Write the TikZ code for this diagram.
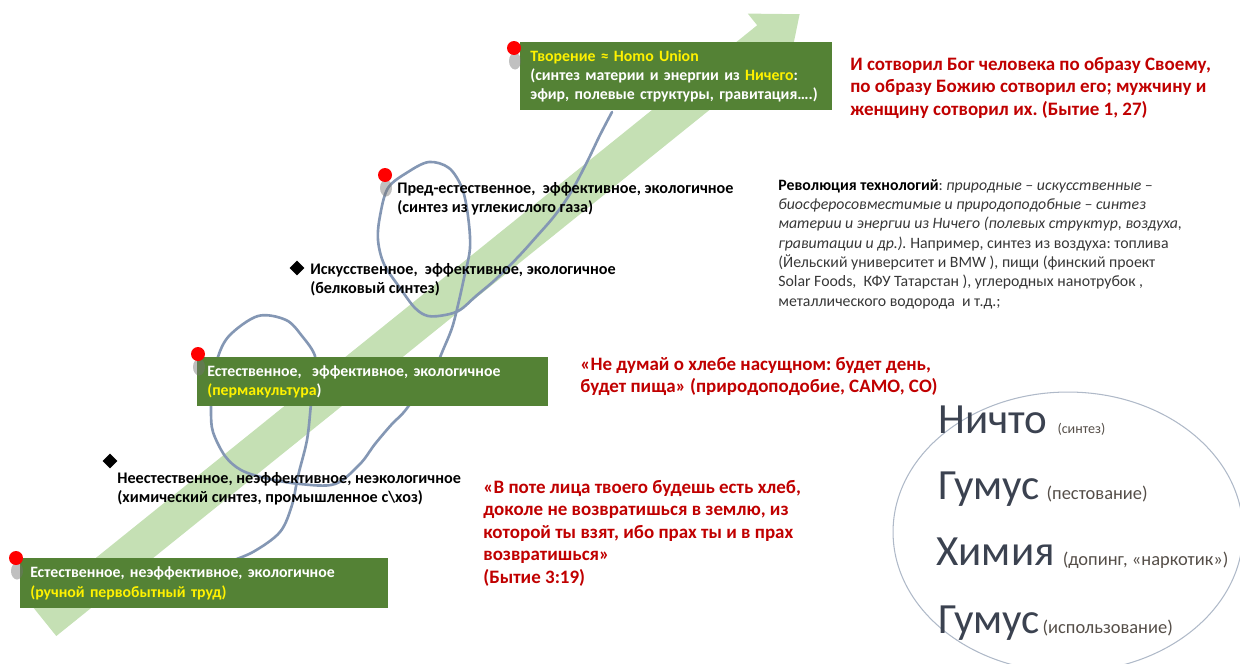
\documentclass[tikz,border=0pt]{standalone}
\usepackage{fontspec}
\setmainfont{Carlito}
\usetikzlibrary{shapes.geometric}

\definecolor{boxgreen}{RGB}{84,130,53}
\definecolor{bandgreen}{RGB}{197,224,180}
\definecolor{curveblue}{RGB}{132,151,180}
\definecolor{quotered}{RGB}{192,0,0}
\definecolor{wordgrey}{RGB}{59,66,80}
\definecolor{notegrey}{RGB}{85,78,72}
\definecolor{textgrey}{RGB}{55,55,55}
\definecolor{ringgrey}{RGB}{175,185,200}

\frenchspacing

\begin{document}
\begin{tikzpicture}[x = 0.02cm, y = -0.02cm,
	greenbox/.style = {fill = boxgreen, text = white, font = {\bfseries\fontsize{9}{11}\selectfont}, align = left, anchor = north west, inner xsep = 0.2cm, inner ysep = 0pt},
	plaintext/.style = {anchor = north west, inner sep = 0pt, align = left, font = {\bfseries\fontsize{9.2}{11}\selectfont}},
	redtext/.style = {plaintext, text = quotered, font = {\bfseries\fontsize{10.8}{12.8}\selectfont}},
	reddot/.style = {circle, fill = red, inner sep = 0pt, minimum size = 0.28cm},
	diamondmark/.style = {diamond, fill = black, inner sep = 0pt, minimum size = 0.3cm},
	bigword/.style = {anchor = base west, inner sep = 0pt, text = wordgrey, font = {\fontsize{24.5}{28}\selectfont}}]

	\useasboundingbox (0, 0) rectangle (1240, 663);

	% the wide arrow
	\begin{scope}[shift = {(45, 622)}, rotate = 38.85]
		\fill [bandgreen] (0, -18) -- (929, -18) -- (929, -33) -- (969, 0) -- (929, 33) -- (929, 18) -- (0, 18) -- cycle;
	\end{scope}

	% hand drawn loops
	\draw [curveblue, line width = 1.5pt, line cap = round] plot [smooth, tension = 0.55] coordinates {
		(228, 562) (253, 552) (280, 532) (292, 505) (298, 476) (307, 440) (311, 404) (314, 378)
		(315, 356) (302, 336) (286, 320) (258, 316) (229, 336) (217, 360) (212, 390) (211, 412)
		(213, 432) (225, 456) (241, 470) (265, 478) (300, 484) (335, 484) (360, 464) (375, 444)
		(392, 424) (404, 412) (420, 390) (435, 368) (443, 350) (452, 328) (458, 305) (464, 278)
		(470, 248) (468, 216) (462, 188) (449, 168) (429, 162) (408, 172) (388, 188) (380, 216)
		(378, 240) (384, 264) (400, 288) (415, 308) (428, 316) (445, 315) (460, 310) (476, 296)
		(496, 279) (519, 256) (537, 236) (552, 219) (564, 203) (574, 187) (588, 160) (600, 135) (612, 112)};

	% stages
	\node [greenbox, text width = 5.84cm, minimum height = 1.36cm] (creation) at (520, 42)
		{\textcolor{yellow}{Творение ≈ Homo Union}\\(синтез материи и энергии из \textcolor{yellow}{Ничего}:\\эфир, полевые структуры, гравитация….)};
	\node [greenbox, text width = 6.62cm, minimum height = 0.98cm] (permaculture) at (197, 357)
		{Естественное,~ эффективное, экологичное\\\textcolor{yellow}{(пермакультура})};
	\node [greenbox, text width = 6.96cm, minimum height = 1cm] (manual) at (20, 558)
		{Естественное, неэффективное, экологичное\\\textcolor{yellow}{(ручной первобытный труд)}};

	\node [plaintext] (prenatural) at (397, 182) {Пред-естественное,~ эффективное, экологичное\\(синтез из углекислого газа)};
	\node [plaintext] (artificial) at (310, 263) {Искусственное,~ эффективное, экологичное\\(белковый синтез)};
	\node [plaintext] (unnatural) at (117, 472) {Неестественное, неэффективное, неэкологичное\\(химический синтез, промышленное с\textbackslash хоз)};

	\foreach \x / \y / \name in {514/48/dottop, 385/175/dotpre, 198/354/dotperma, 16/558/dotmanual} {
		\fill [black!55, opacity = 0.45] (\x + 1, \y + 13) ellipse [x radius = 0.12cm, y radius = 0.17cm];
		\node [reddot] (\name) at (\x, \y) {};
	}
	\node [diamondmark] (markart) at (297, 268) {};
	\node [diamondmark] (markun) at (110, 461) {};

	% quotations
	\node [redtext] (genesis) at (850, 57) {И сотворил Бог человека по образу Своему,\\по образу Божию сотворил его; мужчину и\\женщину сотворил их. (Бытие 1, 27)};
	\node [redtext] (bread) at (580, 357) {«Не думай о хлебе насущном: будет день,\\будет пища» (природоподобие, САМО, СО)};
	\node [redtext] (sweat) at (483, 480) {«В поте лица твоего будешь есть хлеб,\\доколе не возвратишься в землю, из\\которой ты взят, ибо прах ты и в прах\\возвратишься»\\(Бытие 3:19)};

	\node [plaintext, text = textgrey, font = {\fontsize{9}{11}\selectfont}] (revolution) at (778, 179)
		{\textbf{\textcolor{black}{Революция технологий}}: \textit{природные – искусственные –}\\
		\textit{биосферосовместимые и природоподобные – синтез}\\
		\textit{материи и энергии из Ничего (полевых структур, воздуха,}\\
		\textit{гравитации и др.).} Например, синтез из воздуха: топлива\\
		(Йельский университет и BMW ), пищи (финский проект\\
		Solar Foods,~ КФУ Татарстан ), углеродных нанотрубок ,\\
		металлического водорода~ и т.д.;};

	% the oval
	\draw [ringgrey, line width = 0.6pt] (1068, 532) ellipse [x radius = 3.5cm, y radius = 2.8cm];
	\node [bigword] (nothing) at (938, 433) {Ничто\hspace{0.2cm}{\fontsize{8}{10}\selectfont\color{notegrey}(синтез)}};
	\node [bigword] (humus) at (938, 499) {Гумус\hspace{0.14cm}{\fontsize{10.5}{12}\selectfont\color{notegrey}(пестование)}};
	\node [bigword] (chemistry) at (936, 565) {Химия\hspace{0.16cm}{\fontsize{10.5}{12}\selectfont\color{notegrey}(допинг, «наркотик»)}};
	\node [bigword] (humususe) at (938, 633) {Гумус\hspace{0.06cm}{\fontsize{10.5}{12}\selectfont\color{notegrey}(использование)}};

\end{tikzpicture}
\end{document}
